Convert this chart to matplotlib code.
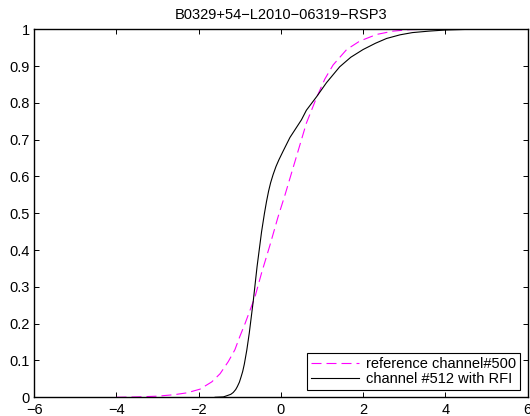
import numpy as np
import matplotlib
matplotlib.use('Agg')
import matplotlib.pyplot as plt
from matplotlib.ticker import FuncFormatter

# ====== DATA ================================================================
title = 'B0329+54\u2212L2010\u221206319\u2212RSP3'

ref_label = 'reference channel#500'
ref_x = [-4.0, -3.5, -3.0, -2.6, -2.29, -1.97, -1.68, -1.48, -1.28, -1.12,
         -1.0, -0.87, -0.75, -0.63, -0.47, -0.27, -0.07, 0.1, 0.30, 0.46,
         0.62, 0.87, 1.07, 1.27, 1.60, 1.92, 2.33, 2.73, 3.13, 3.6, 4.2]
ref_y = [0.0, 0.001, 0.003, 0.007, 0.012, 0.022, 0.042, 0.064, 0.097, 0.129,
         0.165, 0.201, 0.237, 0.273, 0.338, 0.412, 0.49, 0.55, 0.625, 0.685,
         0.745, 0.815, 0.865, 0.903, 0.945, 0.968, 0.986, 0.995, 0.999, 1.0, 1.0]

rfi_label = 'channel #512 with RFI'
rfi_x = [-1.6, -1.4, -1.32, -1.22, -1.16, -1.1, -1.06, -1.01, -0.97, -0.93,
         -0.89, -0.83, -0.77, -0.67, -0.58, -0.47, -0.40, -0.35, -0.30, -0.25,
         -0.19, -0.12, -0.05, 0.05, 0.22, 0.50, 0.62, 0.87, 1.11, 1.43, 1.7,
         2.0, 2.3, 2.57, 2.9, 3.2, 3.6, 4.0, 4.6]
rfi_y = [0.0, 0.001, 0.004, 0.008, 0.013, 0.021, 0.029, 0.041, 0.055, 0.07,
         0.09, 0.128, 0.174, 0.264, 0.355, 0.450, 0.500, 0.532, 0.560, 0.583,
         0.605, 0.627, 0.645, 0.668, 0.706, 0.754, 0.78, 0.817, 0.855, 0.898,
         0.924, 0.945, 0.962, 0.975, 0.985, 0.991, 0.995, 0.998, 1.0]

x_ticks = [-6, -4, -2, 0, 2, 4, 6]
y_ticks = [0, 0.1, 0.2, 0.3, 0.4, 0.5, 0.6, 0.7, 0.8, 0.9, 1.0]

# ====== STYLE ===============================================================
plt.rcParams['font.family'] = ['Liberation Sans', 'DejaVu Sans']
plt.rcParams['font.size'] = 10.5
plt.rcParams['lines.scale_dashes'] = False

fig = plt.figure(figsize=(5.3, 4.16), dpi=100)
ax = fig.add_axes([0.0647, 0.045, 0.9306, 0.8846])

# ====== PLOT ================================================================
ax.plot(ref_x, ref_y, color=(1, 0, 1), lw=0.8, dashes=(7.2, 3.6),
        label=ref_label)
ax.plot(rfi_x, rfi_y, color='k', lw=0.8, label=rfi_label)

ax.set_xlim(-6, 6)
ax.set_ylim(0, 1)
ax.set_xticks(x_ticks)
ax.set_yticks(y_ticks)
ax.yaxis.set_major_formatter(FuncFormatter(lambda v, p: '%g' % v))
ax.tick_params(direction='in', top=True, right=True, length=3.6, width=0.7)
ax.tick_params(axis='x', pad=4)
ax.tick_params(axis='y', pad=3)
for s in ax.spines.values():
    s.set_linewidth(1.0)

ax.set_title(title, fontsize=10.5, pad=7.5)

leg = ax.legend(loc='lower right', bbox_to_anchor=(0.985, 0.0198),
                borderaxespad=0, fancybox=False, framealpha=1,
                edgecolor='k', borderpad=0.25, handlelength=3.3,
                handletextpad=0.5, labelspacing=0.1)
leg.get_frame().set_linewidth(0.8)

fig.savefig('out.png', dpi=100)
